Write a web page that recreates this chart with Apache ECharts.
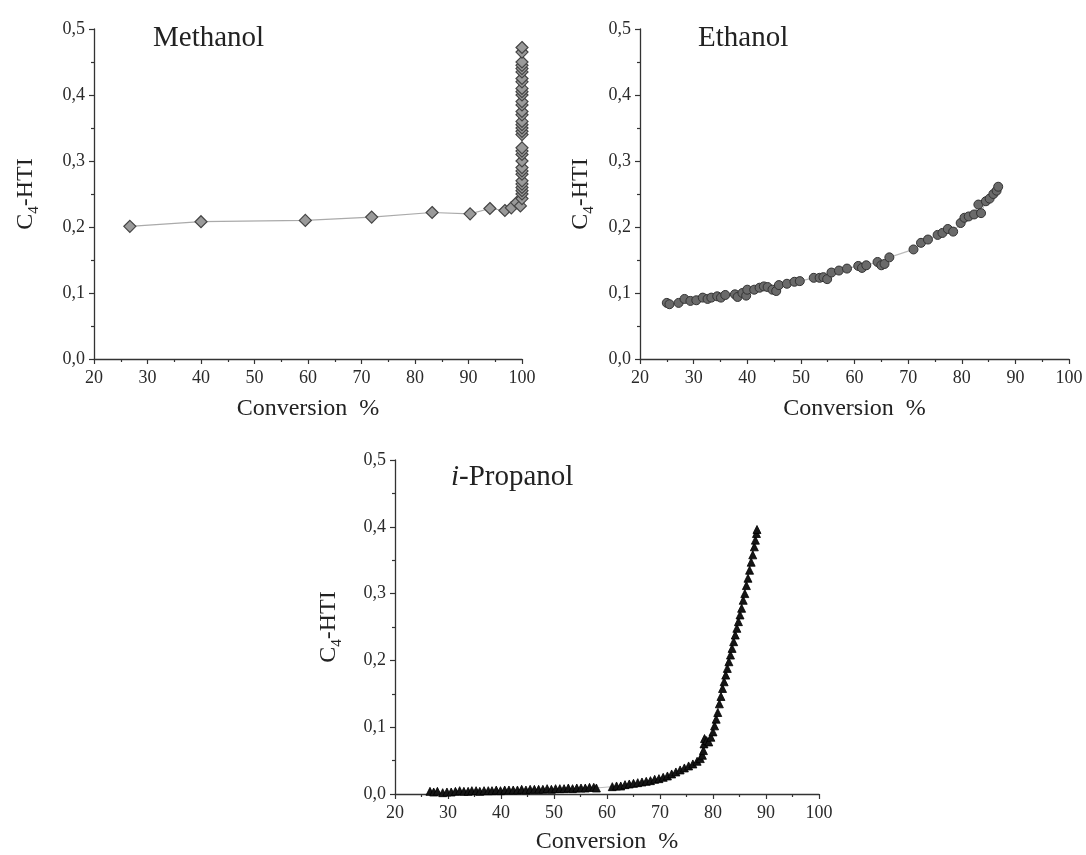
<!DOCTYPE html>
<html>
<head>
<meta charset="utf-8">
<script src="https://cdn.jsdelivr.net/npm/echarts@6/dist/echarts.min.js"></script>
<style>
html,body{margin:0;padding:0;background:#fff;}
#chart{width:1086px;height:855px;}
</style>
</head>
<body>
<div id="chart"></div>
<script>
// ---- Data ----
const xTicks = [20, 30, 40, 50, 60, 70, 80, 90, 100];
const yTicks = [0.0, 0.1, 0.2, 0.3, 0.4, 0.5];
const panelTitles = ['Methanol', 'Ethanol', 'i-Propanol'];

const methConv = [26.7, 40.0, 59.5, 71.9, 83.2, 90.3, 94.0, 96.8, 98.0, 99.0, 99.7, 100, 100, 100, 100, 100, 100, 100, 100, 100, 100, 100, 100, 100, 100, 100, 100, 100, 100, 100, 100, 100, 100, 100, 100, 100, 100, 100, 100, 100, 100, 100, 100, 100];
const methHTI  = [0.201, 0.208, 0.210, 0.215, 0.222, 0.220, 0.228, 0.225, 0.229, 0.237, 0.232, 0.243, 0.250, 0.255, 0.260, 0.265, 0.270, 0.280, 0.285, 0.290, 0.300, 0.310, 0.315, 0.320, 0.340, 0.345, 0.350, 0.355, 0.360, 0.370, 0.375, 0.385, 0.390, 0.400, 0.405, 0.410, 0.420, 0.425, 0.435, 0.440, 0.445, 0.450, 0.465, 0.472];

const ethConv = [25.0, 25.5, 27.2, 28.3, 29.4, 30.5, 31.7, 32.6, 33.3, 34.4, 35.1, 35.9, 37.7, 38.2, 39.1, 39.8, 40.0, 41.3, 42.3, 43.1, 43.8, 44.7, 45.4, 45.9, 47.4, 48.8, 49.8, 52.4, 53.5, 54.2, 54.9, 55.7, 57.1, 58.6, 60.7, 61.4, 62.2, 64.3, 65.0, 65.6, 66.5, 71.0, 72.4, 73.7, 75.5, 76.4, 77.4, 78.4, 79.8, 80.5, 81.3, 82.3, 83.1, 83.6, 84.5, 85.2, 85.9, 86.5, 86.8];
const ethHTI  = [0.085, 0.083, 0.085, 0.091, 0.088, 0.089, 0.093, 0.091, 0.093, 0.095, 0.093, 0.097, 0.098, 0.094, 0.100, 0.096, 0.105, 0.105, 0.108, 0.110, 0.109, 0.105, 0.103, 0.112, 0.114, 0.117, 0.118, 0.123, 0.123, 0.124, 0.121, 0.131, 0.134, 0.137, 0.141, 0.138, 0.142, 0.147, 0.142, 0.144, 0.154, 0.166, 0.176, 0.181, 0.188, 0.191, 0.197, 0.193, 0.206, 0.214, 0.216, 0.219, 0.234, 0.221, 0.239, 0.243, 0.250, 0.255, 0.261];

const propConv = [26.6, 27.3, 28.0, 29.0, 29.8, 30.6, 31.4, 32.2, 33.0, 33.8, 34.5, 35.3, 36.0, 36.8, 37.6, 38.3, 39.1, 39.9, 40.7, 41.5, 42.3, 43.1, 43.9, 44.7, 45.5, 46.3, 47.1, 47.9, 48.7, 49.5, 50.3, 51.1, 51.9, 52.7, 53.5, 54.3, 55.1, 55.9, 56.7, 57.5, 58.0,
  61.0, 61.8, 62.6, 63.4, 64.2, 65.0, 65.8, 66.6, 67.4, 68.2, 69.0, 69.8, 70.6, 71.4, 72.2, 73.0, 73.8, 74.6, 75.4, 76.2, 77.0, 77.6, 78.0, 78.2, 78.3, 78.4, 78.8, 79.2, 79.6, 80.0, 80.3, 80.6, 80.9, 81.2, 81.5, 81.8, 82.1, 82.4, 82.7, 83.0, 83.3, 83.6, 83.9, 84.2, 84.5, 84.8, 85.1, 85.4, 85.7, 86.0, 86.3, 86.6, 86.9, 87.2, 87.5, 87.8, 88.0, 88.2, 88.3];
const propHTI  = [0.004, 0.003, 0.004, 0.002, 0.003, 0.003, 0.004, 0.005, 0.004, 0.004, 0.005, 0.005, 0.004, 0.005, 0.005, 0.005, 0.006, 0.005, 0.006, 0.006, 0.006, 0.006, 0.007, 0.006, 0.007, 0.007, 0.007, 0.007, 0.008, 0.007, 0.008, 0.008, 0.008, 0.009, 0.008, 0.009, 0.009, 0.009, 0.010, 0.010, 0.009,
  0.011, 0.012, 0.012, 0.014, 0.015, 0.016, 0.017, 0.018, 0.019, 0.020, 0.022, 0.023, 0.025, 0.027, 0.030, 0.033, 0.036, 0.039, 0.042, 0.045, 0.049, 0.053, 0.058, 0.065, 0.075, 0.083, 0.080, 0.078, 0.085, 0.093, 0.102, 0.112, 0.122, 0.135, 0.146, 0.158, 0.168, 0.178, 0.188, 0.198, 0.208, 0.218, 0.228, 0.238, 0.248, 0.258, 0.268, 0.278, 0.290, 0.300, 0.312, 0.323, 0.335, 0.347, 0.358, 0.370, 0.380, 0.390, 0.396];

// ---- Chart ----
const FONT = "'Liberation Serif', 'Times New Roman', serif";
const zip = (a, b) => a.map((v, i) => [v, b[i]]);
const fmtComma = v => v.toFixed(1).replace('.', ',');

function xAx(gridIndex, nameGap) {
  return {
    type: 'value', gridIndex: gridIndex,
    min: xTicks[0], max: xTicks[xTicks.length - 1], interval: xTicks[1] - xTicks[0],
    axisLine: { show: true, onZero: false, lineStyle: { color: '#333', width: 1.3 } },
    axisTick: { show: true, inside: false, length: 5, lineStyle: { color: '#333', width: 1.2 } },
    minorTick: { show: true, splitNumber: 2, length: 3, lineStyle: { color: '#333', width: 1.2 } },
    splitLine: { show: false },
    axisLabel: { fontFamily: FONT, fontSize: 18, color: '#2a2a2a', margin: 10 },
    name: 'Conversion  %', nameLocation: 'middle', nameGap: nameGap,
    nameTextStyle: { fontFamily: FONT, fontSize: 24, color: '#222' }
  };
}
function yAx(gridIndex, nameGap) {
  return {
    type: 'value', gridIndex: gridIndex,
    min: yTicks[0], max: yTicks[yTicks.length - 1], interval: yTicks[1] - yTicks[0],
    axisLine: { show: true, onZero: false, lineStyle: { color: '#333', width: 1.3 } },
    axisTick: { show: true, inside: false, length: 5, lineStyle: { color: '#333', width: 1.2 } },
    minorTick: { show: true, splitNumber: 2, length: 3, lineStyle: { color: '#333', width: 1.2 } },
    splitLine: { show: false },
    axisLabel: { fontFamily: FONT, fontSize: 18, color: '#2a2a2a', margin: 9, formatter: fmtComma },
    name: 'C{sub|4}-HTI', nameLocation: 'middle', nameGap: nameGap, nameRotate: 90,
    nameTextStyle: {
      fontFamily: FONT, fontSize: 24, color: '#222', lineHeight: 32,
      rich: { sub: { fontFamily: FONT, fontSize: 15, color: '#222', verticalAlign: 'bottom', lineHeight: 15 } }
    }
  };
}
const titleStyle = { fontFamily: FONT, fontSize: 29, fontWeight: 'normal', color: '#222' };

const option = {
  animation: false,
  backgroundColor: '#fff',
  title: [
    { text: panelTitles[0], left: 148, top: 19, textStyle: titleStyle },
    { text: panelTitles[1], left: 693, top: 19, textStyle: titleStyle },
    { text: '{it|i}-Propanol', left: 446, top: 458,
      textStyle: Object.assign({}, titleStyle, { rich: { it: Object.assign({}, titleStyle, { fontStyle: 'italic' }) } }) }
  ],
  grid: [
    { left: 94, top: 29, width: 428, height: 330 },
    { left: 640, top: 29, width: 429, height: 330 },
    { left: 395, top: 460, width: 424, height: 335 }
  ],
  xAxis: [xAx(0, 38), xAx(1, 38), xAx(2, 36)],
  yAxis: [yAx(0, 52), yAx(1, 43), yAx(2, 50)],
  series: [
    {
      type: 'line', xAxisIndex: 0, yAxisIndex: 0, data: zip(methConv, methHTI),
      symbol: 'diamond', symbolSize: 12,
      lineStyle: { color: '#aaa', width: 1.2 },
      itemStyle: { color: '#9a9a9a', borderColor: '#444', borderWidth: 1.2 }
    },
    {
      type: 'line', xAxisIndex: 1, yAxisIndex: 1, data: zip(ethConv, ethHTI),
      symbol: 'circle', symbolSize: 9,
      lineStyle: { color: '#bbb', width: 1.2 },
      itemStyle: { color: '#6a6a6a', borderColor: '#333', borderWidth: 1 }
    },
    {
      type: 'line', xAxisIndex: 2, yAxisIndex: 2, data: zip(propConv, propHTI),
      symbol: 'triangle', symbolSize: 8,
      lineStyle: { color: '#bbb', width: 1 },
      itemStyle: { color: '#151515', borderColor: '#000', borderWidth: 0.8 }
    }
  ]
};
const chart = echarts.init(document.getElementById('chart'), null, { renderer: 'canvas' });
chart.setOption(option);
</script>
</body>
</html>
